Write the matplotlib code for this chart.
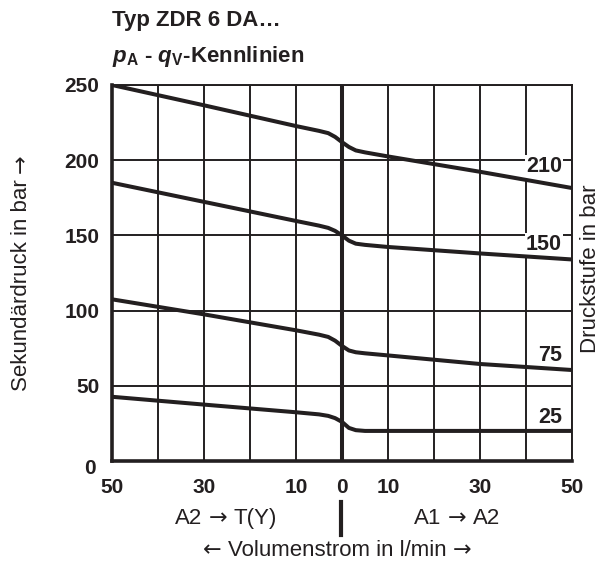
import numpy as np
import matplotlib
matplotlib.use('Agg')
import matplotlib.pyplot as plt
from matplotlib.lines import Line2D
import matplotlib.transforms as mtransforms

plt.rcParams['font.family'] = ['Liberation Sans', 'DejaVu Sans']
plt.rcParams['mathtext.fontset'] = 'custom'
plt.rcParams['mathtext.rm'] = 'Liberation Sans'
plt.rcParams['mathtext.bf'] = 'Liberation Sans:bold'
plt.rcParams['mathtext.it'] = 'Liberation Sans:italic'
plt.rcParams['mathtext.bfit'] = 'Liberation Sans:italic:bold'

INK = '#231f20'
W, H = 603.0, 567.0

# flow (l/min), negative = A2 -> T(Y), positive = A1 -> A2
flow = [-50, -30, -10, -5, -3, -1.5, 0, 1.5, 3, 5, 10, 30, 50]

p_210 = [250, 236.5, 222.7, 219.5, 218, 215.5, 212, 208.8, 206.5, 205.2, 202.5, 192.3, 181.5]
p_150 = [185, 172.3, 159.6, 156.5, 155, 153, 150, 146.5, 144.5, 143.7, 142.3, 138, 134]
p_75 = [107.5, 97.5, 86.9, 84, 82.5, 80, 76.5, 73.5, 72.3, 71.6, 70.2, 64.5, 60.5]
p_25 = [42.7, 37.5, 32.4, 31, 30, 28.5, 26, 22, 20.5, 20, 20, 20, 20]

curves = [('210', p_210, 195.7), ('150', p_150, 143.7),
          ('75', p_75, 70.3), ('25', p_25, 29)]

grid_x = np.arange(-50, 51, 10)
xtick_labels = ['50', '', '30', '', '10', '0', '10', '', '30', '', '50']
grid_y = [0, 50, 100, 150, 200, 250]

LIB = ['Liberation Sans']
ARR = ['DejaVu Sans']   # Liberation's arrows are tiny


def mixed(fig, cx, base, parts, size, rotation=0):
  # lay out word pieces in different fonts along one baseline,
  # centred on cx (pixels from left, or from top when rotated)
  r = fig.canvas.get_renderer()
  texts, lens = [], []
  for s, fam in parts:
    t = fig.text(0, 0, s, fontsize=size, family=fam, color=INK,
                 rotation=rotation, rotation_mode='anchor',
                 ha='left', va='baseline')
    bb = t.get_window_extent(r)
    lens.append(bb.width if rotation == 0 else bb.height)
    texts.append(t)
  gap = 0.278 * size * fig.dpi / 72.
  total = sum(lens) + gap * (len(parts) - 1)
  if rotation == 0:
    pos = cx - total / 2
    for t, l in zip(texts, lens):
      t.set_position((pos / W, 1 - base / H))
      pos += l + gap
  else:
    pos = cx + total / 2
    for t, l in zip(texts, lens):
      t.set_position((base / W, 1 - pos / H))
      pos -= l + gap


def main():
  fig = plt.figure(figsize=(6.03, 5.67), dpi=100)
  ax = fig.add_axes([112 / W, 1 - 461 / H, 460 / W, 376 / H])

  ax.set_xlim(-50, 50)
  ax.set_ylim(0, 250)
  ax.set_xticks(grid_x)
  ax.set_xticklabels(xtick_labels)
  ax.set_yticks(grid_y)
  ax.grid(True, color=INK, lw=1.4)
  ax.set_axisbelow(True)
  ax.tick_params(length=0, labelsize=15, colors=INK)
  ax.tick_params(axis='x', pad=12)
  ax.tick_params(axis='y', pad=9)
  for lab in ax.get_xticklabels() + ax.get_yticklabels():
    lab.set_fontweight('bold')

  # the 0 label sits a bit lower and left
  off = mtransforms.ScaledTranslation(-3 / 72., -4 / 72., fig.dpi_scale_trans)
  y0 = ax.get_yticklabels()[0]
  y0.set_transform(y0.get_transform() + off)

  for side in ['left', 'bottom']:
    ax.spines[side].set_linewidth(2.6)
    ax.spines[side].set_color(INK)
  for side in ['top', 'right']:
    ax.spines[side].set_linewidth(1.4)
    ax.spines[side].set_color(INK)

  ax.axvline(0, color=INK, lw=2.9, zorder=2)

  for name, p, ylab in curves:
    ax.plot(flow, p, color=INK, lw=2.9, solid_capstyle='butt', zorder=3)
    ax.text(47.8, ylab, name, ha='right', va='center', fontsize=15.5,
            fontweight='bold', color=INK, zorder=2.5,
            bbox=dict(facecolor='white', edgecolor='none', pad=1.0))

  fig.text(112 / W, 1 - 26 / H, 'Typ ZDR 6 DA…', fontsize=16,
           fontweight='bold', color=INK, va='baseline')
  fig.text(112 / W, 1 - 62 / H,
           r'$\mathbfit{p}_\mathbf{A}$ - $\mathbfit{q}_\mathbf{V}$-Kennlinien',
           fontsize=16, fontweight='bold', color=INK, va='baseline')

  mixed(fig, 273, 27, [('Sekundärdruck in bar', LIB), ('→', ARR)], 16,
        rotation=90)
  fig.text(591 / W, 1 - 269 / H, 'Druckstufe in bar', rotation=90,
           fontsize=16, color=INK, ha='center', va='center')

  mixed(fig, 226, 524, [('A2', LIB), ('→', ARR), ('T(Y)', LIB)], 16)
  mixed(fig, 457, 524, [('A1', LIB), ('→', ARR), ('A2', LIB)], 16)
  fig.add_artist(Line2D([341 / W, 341 / W], [1 - 502 / H, 1 - 535 / H],
                        transform=fig.transFigure, color=INK, lw=3))
  mixed(fig, 337, 556, [('←', ARR), ('Volumenstrom in l/min', LIB),
                        ('→', ARR)], 16)

  fig.savefig('out.png', dpi=100)


if __name__ == '__main__':
  main()
